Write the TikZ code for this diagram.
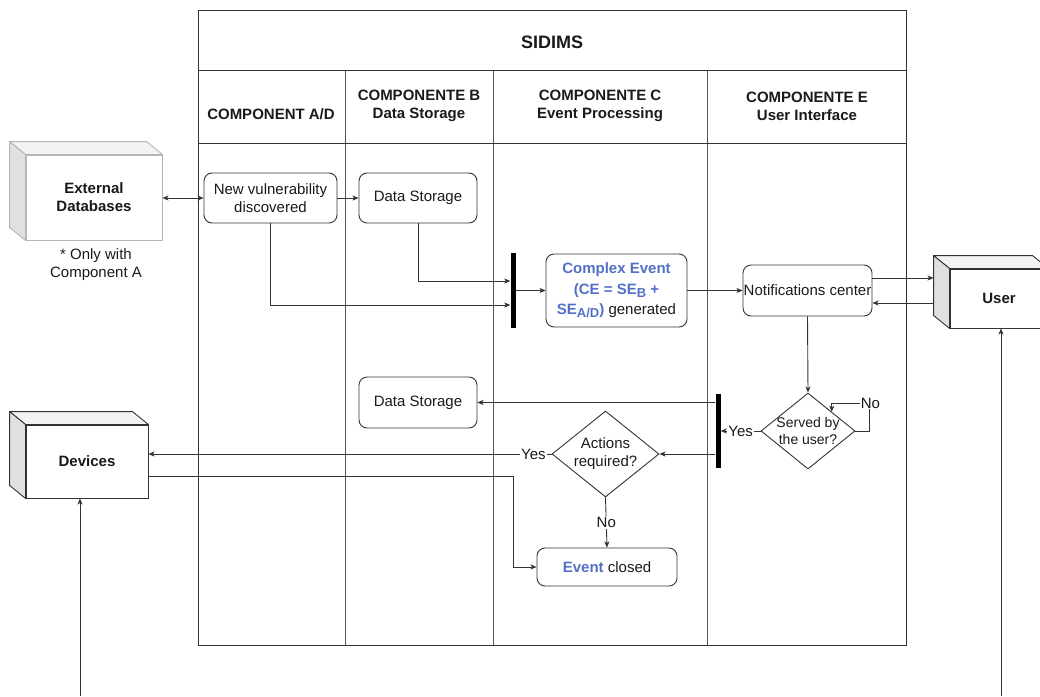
\documentclass[tikz,border=0pt]{standalone}
\usepackage{fontspec}
\setmainfont{Liberation Sans}
\usetikzlibrary{arrows.meta,shapes.geometric,calc}

\definecolor{ln}{HTML}{333333}
\definecolor{lanegray}{HTML}{555555}
\definecolor{lightln}{HTML}{B5B5B5}
\definecolor{evblue}{RGB}{84,112,198}
\definecolor{sidefill}{HTML}{E0E0E0}
\definecolor{topfill}{HTML}{F3F3F3}
\definecolor{txt}{HTML}{1A1A1A}

% 3D box: front face node plus top and left faces
\newcommand{\solidbox}[6]{%
  \node[draw=#5, fill=white, line width=0.9pt, minimum width=#3, minimum height=#4,
        inner sep=0pt, font=\fontsize{15}{18}\selectfont\bfseries, align=center] (#1) at #2 {#6};
  \filldraw[fill=topfill, draw=#5, line width=0.9pt, line join=round]
    (#1.north west) -- ($(#1.north west)+(-16,-13)$) -- ($(#1.north east)+(-16,-13)$) -- (#1.north east) -- cycle;
  \filldraw[fill=sidefill, draw=#5, line width=0.9pt, line join=round]
    (#1.north west) -- ($(#1.north west)+(-16,-13)$) -- ($(#1.south west)+(-16,-13)$) -- (#1.south west) -- cycle;
}

\begin{document}
\begin{tikzpicture}[x=1pt,y=-1pt,
  every node/.style={font=\fontsize{15}{18}\selectfont, text=txt},
  pool/.style={draw=ln, line width=1pt},
  lane/.style={draw=lanegray, line width=0.8pt},
  hdr/.style={font=\fontsize{15}{18}\selectfont\bfseries, align=center},
  act/.style={draw=ln, line width=0.9pt, rounded corners=8pt, align=center, inner sep=0pt},
  dec/.style={draw=ln, line width=0.9pt, diamond, inner sep=0pt},
  bar/.style={fill=black, draw=none, minimum width=5pt, inner sep=0pt},
  arr/.style={draw=ln, line width=0.9pt, -{Stealth[length=6pt,width=5pt,inset=1.5pt]}},
  lbl/.style={fill=white, inner sep=1pt},
]
\useasboundingbox (0,0) rectangle (1040,696);
\clip (0,0) rectangle (1040,696);

% pool and lanes
\draw[lane] (345,70) -- (345,645);
\draw[lane] (493,70) -- (493,645);
\draw[lane] (707,70) -- (707,645);
\draw[pool] (198,70) -- (906,70);
\draw[pool] (198,143) -- (906,143);
\draw[pool] (198,10) rectangle (906,645);

\node[hdr, font=\fontsize{18}{21}\selectfont\bfseries] (title) at (552,42) {SIDIMS};
\node[hdr] (hA) at (271,114) {COMPONENT A/D};
\node[hdr] (hB) at (419,106) {COMPONENTE B\\Data Storage};
\node[hdr] (hC) at (600,106) {COMPONENTE C\\Event Processing};
\node[hdr] (hE) at (807,106) {COMPONENTE E\\User Interface};

% external actors
\solidbox{ext}{(94,197.5)}{136}{85}{lightln}{External\\Databases}
\node[align=center] (extnote) at (96,265) {* Only with\\Component A};
\solidbox{dev}{(87,461.5)}{122}{73}{ln}{Devices}
\solidbox{user}{(999,298.5)}{98}{59}{ln}{User}

% activities
\node[act, minimum width=133, minimum height=50] (vuln) at (270.5,198) {New vulnerability\\discovered};
\node[act, minimum width=118, minimum height=50] (ds1) at (418,198) {Data Storage};
\node[bar, minimum height=75] (bar1) at (513,290.5) {};
\node[act, minimum width=141, minimum height=73, font=\fontsize{15}{20.5}\selectfont] (ce) at (616.5,290.5)
  {\textcolor{evblue}{\bfseries Complex Event}\\
   \textcolor{evblue}{\bfseries (CE = SE\raisebox{-0.35ex}{\fontsize{13}{12}\selectfont B} +}\\
   \textcolor{evblue}{\bfseries SE\raisebox{-0.35ex}{\fontsize{13}{12}\selectfont A/D})} generated};
\node[act, minimum width=129, minimum height=51] (notif) at (807.5,290.5) {Notifications center};
\node[dec, minimum width=94, minimum height=76,
      label={[align=center, font=\fontsize{14}{17}\selectfont]center:Served by\\the user?}] (served) at (808,431) {};
\node[bar, minimum height=74] (bar2) at (718,431) {};
\node[act, minimum width=118, minimum height=51] (ds2) at (418,402.5) {Data Storage};
\node[dec, minimum width=107, minimum height=86,
      label={[align=center]center:Actions\\required?}] (actions) at (605.5,454) {};
\node[act, minimum width=140, minimum height=38] (closed) at (607,567)
  {\textcolor{evblue}{\bfseries Event} closed};

% connectors
\draw[draw=ln, line width=0.9pt, {Stealth[length=6pt,width=5pt,inset=1.5pt]}-{Stealth[length=6pt,width=5pt,inset=1.5pt]}]
  (ext.east |- vuln.west) -- (vuln.west);
\draw[arr] (vuln) -- (ds1);
\draw[arr] (vuln.south) |- ($(bar1.west)+(0,14.5)$);
\draw[arr] (ds1.south) |- ($(bar1.west)+(0,-9.5)$);
\draw[arr] (bar1.east) -- (ce.west);
\draw[arr] (ce.east) -- (notif.west);
\draw[arr] ($(notif.east)+(0,-12.5)$) -- ($(user.west)+(-16,-20.5)$);
\draw[arr] ($(user.west)+(-16,4.5)$) -- ($(notif.east)+(0,12.5)$);
\draw[arr] (notif.south) -- (served.north);

\coordinate (noturn) at ($(served.east)+(14,-28)$);
\draw[arr] (served.east) -| (noturn) -| ($(served.north)!0.5!(served.east)$);
\node[lbl] (nolbl) at ($(noturn)+(1,0)$) {No};
\draw[arr] (served.west) -- node[lbl] (yes1) {Yes} (served.west -| bar2.east);

\draw[arr] (bar2.west |- ds2.east) -- (ds2.east);
\draw[arr] (bar2.west |- actions.east) -- (actions.east);
\draw[arr] (actions.west) -- node[lbl, pos=0.045] (yes2) {Yes} (actions.west -| dev.east);
\draw[arr] (actions.south) -- node[lbl] (no2) {No} (closed.north);
\draw[arr] ($(dev.east)+(0,14.5)$) -| ($(closed.west)+(-23,0)$) -- (closed.west);

\coordinate (devfeed) at (80,696);
\coordinate (userfeed) at (1001,696);
\draw[arr] (devfeed) -- (devfeed |- dev.south);
\draw[arr] (userfeed) -- (userfeed |- user.south);
\end{tikzpicture}
\end{document}
